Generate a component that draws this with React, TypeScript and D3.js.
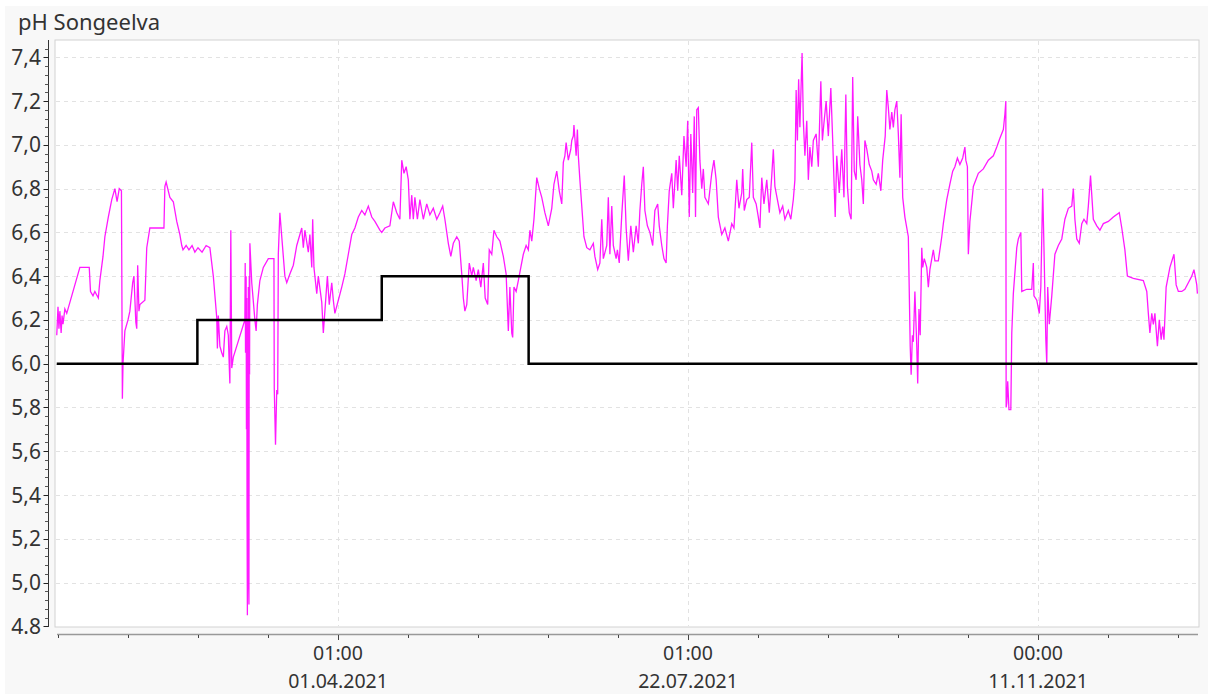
import React from "react";
import * as d3 from "d3";

const W = 1210;
const H = 694;

const chartTitle = "pH Songeelva";

// day of year 2021 (0 = 1 Jan), pH value
const phSeries: [number, number][] = [
  [0.0, 6.13], [0.4, 6.26], [0.7, 6.16], [1.0, 6.24], [1.4, 6.14], [1.7, 6.22], [2.0, 6.18], [2.6, 6.25],
  [3.2, 6.23], [7.4, 6.44], [10.4, 6.44], [10.8, 6.33], [11.6, 6.31], [12.2, 6.33], [13.3, 6.3], [13.8, 6.38],
  [14.8, 6.49], [15.4, 6.58], [16.5, 6.67], [17.6, 6.75], [18.6, 6.8], [19.3, 6.74], [20.0, 6.8], [20.7, 6.79],
  [21.0, 5.84], [21.2, 6.0], [21.8, 6.15], [22.8, 6.2], [23.4, 6.24], [24.3, 6.37], [24.7, 6.4], [25.3, 6.19],
  [25.6, 6.16], [25.9, 6.45], [26.3, 6.24], [26.6, 6.27], [28.2, 6.29], [28.8, 6.53], [29.8, 6.62], [34.3, 6.62],
  [34.6, 6.81], [35.0, 6.83], [36.2, 6.76], [37.3, 6.74], [38.4, 6.65], [39.4, 6.59], [40.0, 6.54], [40.4, 6.52],
  [41.4, 6.54], [42.3, 6.52], [43.3, 6.54], [44.2, 6.51], [45.2, 6.53], [46.5, 6.51], [47.8, 6.54], [49.0, 6.53],
  [50.1, 6.4], [51.2, 6.21], [51.4, 6.07], [51.7, 6.22], [52.2, 6.08], [52.8, 6.05], [53.3, 6.03], [53.8, 6.15],
  [54.4, 6.17], [54.9, 6.13], [55.2, 5.99], [55.4, 5.91], [55.7, 6.61], [56.0, 5.98], [56.5, 6.03], [60.2, 6.2],
  [60.3, 6.46], [60.4, 6.05], [60.6, 6.4], [60.7, 5.7], [60.8, 6.3], [60.9, 5.3], [61.0, 4.85], [61.1, 6.2],
  [61.2, 5.6], [61.3, 6.35], [61.4, 5.0], [61.5, 4.9], [61.6, 6.4], [61.7, 5.95], [61.8, 6.55], [62.4, 6.37],
  [63.4, 6.2], [63.8, 6.15], [64.2, 6.27], [65.0, 6.38], [66.1, 6.44], [67.7, 6.48], [69.5, 6.48], [69.6, 5.89],
  [70.0, 5.63], [70.4, 5.88], [70.7, 5.86], [70.9, 6.5], [71.4, 6.69], [72.0, 6.58], [73.0, 6.4], [73.6, 6.37],
  [74.6, 6.41], [75.7, 6.45], [76.8, 6.54], [78.4, 6.62], [78.9, 6.53], [79.4, 6.61], [80.5, 6.51], [81.0, 6.59],
  [81.6, 6.44], [81.9, 6.66], [82.3, 6.44], [83.2, 6.32], [83.7, 6.4], [84.8, 6.28], [85.3, 6.14], [85.8, 6.24],
  [86.6, 6.4], [87.2, 6.27], [88.0, 6.37], [88.5, 6.29], [89.0, 6.23], [90.1, 6.29], [91.2, 6.35], [92.2, 6.41],
  [93.3, 6.5], [94.4, 6.59], [95.4, 6.62], [96.5, 6.67], [97.6, 6.7], [98.6, 6.68], [99.7, 6.72], [100.8, 6.67],
  [101.8, 6.65], [103.4, 6.61], [104.0, 6.6], [105.0, 6.62], [106.6, 6.63], [107.7, 6.74], [108.8, 6.69],
  [109.8, 6.66], [110.4, 6.93], [111.1, 6.87], [111.8, 6.9], [112.5, 6.84], [113.0, 6.66], [113.6, 6.77],
  [114.1, 6.66], [114.6, 6.76], [115.4, 6.66], [116.2, 6.75], [117.3, 6.66], [118.4, 6.73], [119.4, 6.68],
  [120.5, 6.71], [121.6, 6.66], [122.6, 6.69], [123.5, 6.72], [124.2, 6.66], [125.3, 6.55], [126.1, 6.49],
  [126.9, 6.55], [128.0, 6.58], [128.8, 6.56], [129.6, 6.41], [130.1, 6.3], [130.6, 6.24], [131.2, 6.27],
  [132.0, 6.46], [132.8, 6.4], [133.3, 6.44], [134.2, 6.38], [134.9, 6.43], [135.7, 6.35], [136.5, 6.46],
  [137.1, 6.3], [137.9, 6.27], [138.4, 6.52], [139.2, 6.5], [139.9, 6.61], [140.8, 6.58], [141.8, 6.56],
  [142.9, 6.49], [143.8, 6.41], [144.5, 6.15], [145.0, 6.35], [145.6, 6.14], [145.9, 6.12], [146.3, 6.35],
  [147.0, 6.33], [147.7, 6.38], [148.5, 6.44], [149.3, 6.5], [150.2, 6.54], [150.9, 6.52], [151.4, 6.61],
  [152.0, 6.56], [152.7, 6.66], [153.6, 6.85], [154.4, 6.8], [155.2, 6.76], [156.2, 6.69], [157.3, 6.63],
  [158.4, 6.71], [159.1, 6.82], [160.0, 6.88], [160.8, 6.79], [161.6, 6.73], [162.1, 6.92], [162.6, 6.95],
  [163.0, 7.01], [163.7, 6.93], [164.5, 6.98], [164.8, 7.02], [165.3, 7.04], [165.5, 7.09], [166.2, 6.95],
  [166.6, 7.07], [166.9, 6.95], [167.4, 6.84], [168.0, 6.72], [168.7, 6.58], [169.6, 6.53], [170.6, 6.52],
  [171.7, 6.55], [172.2, 6.49], [173.1, 6.43], [173.8, 6.46], [174.4, 6.66], [174.9, 6.48], [176.0, 6.54],
  [176.5, 6.76], [177.0, 6.5], [177.6, 6.72], [178.1, 6.54], [179.0, 6.48], [179.4, 6.52], [180.0, 6.46],
  [180.8, 6.68], [181.6, 6.86], [182.2, 6.62], [182.9, 6.47], [183.7, 6.63], [184.5, 6.51], [185.4, 6.63],
  [186.1, 6.55], [186.6, 6.7], [187.2, 6.82], [187.7, 6.9], [188.2, 6.7], [189.0, 6.63], [189.8, 6.6],
  [190.7, 6.54], [191.4, 6.7], [192.3, 6.73], [192.8, 6.63], [193.6, 6.54], [194.3, 6.48], [195.0, 6.46],
  [195.4, 6.63], [196.0, 6.79], [196.8, 6.87], [197.3, 6.71], [198.2, 6.93], [198.7, 6.79], [199.2, 6.95],
  [200.0, 6.77], [200.7, 7.04], [201.4, 6.9], [201.9, 7.11], [202.4, 6.67], [202.9, 7.05], [203.5, 6.78],
  [204.0, 7.13], [204.4, 6.67], [204.8, 7.16], [205.3, 7.17], [205.8, 6.93], [206.4, 6.8], [206.9, 6.89],
  [207.4, 6.76], [208.5, 6.73], [209.6, 6.87], [210.3, 6.93], [211.0, 6.84], [211.7, 6.67], [212.8, 6.59],
  [213.8, 6.62], [214.9, 6.56], [216.0, 6.64], [216.7, 6.62], [217.6, 6.84], [218.3, 6.71], [219.2, 6.78],
  [219.5, 6.89], [220.0, 6.7], [220.8, 6.75], [221.6, 6.76], [222.4, 7.01], [222.9, 6.76], [223.8, 6.73],
  [224.5, 6.67], [225.0, 6.62], [225.6, 6.85], [226.3, 6.73], [227.2, 6.84], [228.0, 6.69], [228.8, 6.86],
  [229.3, 6.98], [229.8, 6.81], [230.6, 6.75], [231.4, 6.69], [232.3, 6.72], [233.0, 6.66], [234.1, 6.7],
  [234.9, 6.66], [235.7, 6.75], [236.2, 6.84], [236.6, 7.25], [237.0, 7.02], [237.4, 7.3], [237.8, 7.08],
  [238.5, 7.42], [238.9, 7.11], [239.4, 6.95], [240.0, 7.11], [240.5, 6.84], [241.0, 6.99], [241.6, 6.9],
  [242.1, 7.02], [243.0, 7.05], [243.7, 6.9], [244.5, 7.29], [245.0, 7.02], [245.5, 7.1], [246.2, 7.2],
  [246.9, 7.04], [247.7, 7.26], [248.3, 7.02], [248.7, 6.84], [249.1, 6.67], [249.6, 6.95], [250.4, 6.78],
  [251.2, 6.98], [251.9, 6.76], [252.5, 7.23], [253.0, 6.81], [253.6, 6.69], [254.2, 6.66], [254.7, 7.31],
  [255.2, 6.88], [255.8, 6.84], [256.3, 7.13], [257.0, 6.91], [257.6, 6.84], [258.1, 6.73], [258.6, 7.02],
  [259.2, 6.98], [260.0, 6.91], [260.8, 6.88], [261.3, 6.84], [262.2, 6.82], [262.9, 6.87], [263.7, 6.79],
  [264.3, 6.93], [265.1, 7.04], [265.6, 7.25], [266.1, 7.17], [266.6, 7.07], [267.2, 7.15], [267.7, 7.08],
  [268.2, 7.16], [268.8, 7.2], [269.3, 7.05], [269.8, 6.85], [270.2, 7.14], [270.7, 6.76], [271.4, 6.67],
  [272.5, 6.58], [273.1, 6.08], [273.4, 5.95], [273.8, 6.13], [274.1, 6.1], [274.6, 6.33], [275.2, 6.08],
  [275.5, 5.91], [275.9, 6.25], [276.3, 6.13], [276.8, 6.53], [277.1, 6.44], [277.6, 6.48], [278.4, 6.44],
  [278.9, 6.35], [279.4, 6.43], [280.5, 6.52], [281.0, 6.47], [282.1, 6.47], [283.2, 6.58], [283.7, 6.64],
  [284.2, 6.69], [284.8, 6.75], [285.8, 6.82], [286.7, 6.88], [287.4, 6.9], [288.2, 6.94], [289.0, 6.91],
  [289.9, 6.94], [290.6, 6.99], [290.9, 6.93], [291.4, 6.9], [291.7, 6.5], [292.2, 6.65], [293.3, 6.81],
  [294.9, 6.87], [296.5, 6.89], [298.1, 6.93], [299.7, 6.95], [300.8, 6.99], [301.8, 7.03], [302.9, 7.07],
  [303.4, 7.14], [303.7, 7.2], [303.8, 5.8], [304.0, 5.82], [304.3, 5.92], [304.7, 5.79], [305.3, 5.79],
  [305.6, 6.14], [306.1, 6.32], [307.2, 6.53], [307.7, 6.57], [308.5, 6.6], [308.8, 6.33], [310.4, 6.34],
  [312.0, 6.34], [312.5, 6.46], [312.7, 6.31], [313.6, 6.29], [314.4, 6.23], [314.9, 6.35], [315.5, 6.8],
  [315.9, 6.53], [316.5, 6.11], [316.8, 6.0], [317.1, 6.35], [317.6, 6.18], [318.4, 6.31], [319.4, 6.5],
  [320.5, 6.54], [321.6, 6.57], [322.6, 6.66], [323.7, 6.71], [324.8, 6.72], [325.3, 6.8], [325.8, 6.66],
  [326.4, 6.57], [327.2, 6.55], [328.0, 6.64], [328.7, 6.66], [329.6, 6.64], [330.1, 6.72], [330.8, 6.86],
  [331.7, 6.66], [332.8, 6.63], [333.8, 6.61], [334.9, 6.64], [336.5, 6.65], [338.1, 6.67], [340.0, 6.69],
  [340.8, 6.62], [341.8, 6.52], [342.6, 6.4], [344.5, 6.39], [347.7, 6.38], [348.8, 6.33], [349.3, 6.23],
  [349.8, 6.14], [350.4, 6.23], [350.9, 6.18], [351.4, 6.23], [352.2, 6.08], [352.8, 6.2], [353.4, 6.11],
  [353.9, 6.17], [354.3, 6.11], [355.0, 6.35], [356.2, 6.44], [357.5, 6.5], [358.2, 6.36], [358.9, 6.33],
  [360.0, 6.33], [361.0, 6.34], [362.1, 6.37], [363.2, 6.4], [363.9, 6.43], [364.8, 6.36], [365.0, 6.32],
];

// lower pH limit, stepwise by season
const limitDays = [0, 45, 104, 151, 365];
const limitValues = [6.0, 6.2, 6.4, 6.0, 6.0];

const yTicks = [4.8, 5.0, 5.2, 5.4, 5.6, 5.8, 6.0, 6.2, 6.4, 6.6, 6.8, 7.0, 7.2, 7.4];
const yTickLabels = ["4.8", "5,0", "5,2", "5,4", "5,6", "5,8", "6,0", "6,2", "6,4", "6,6", "6,8", "7,0", "7,2", "7,4"];

const xMajorDays = [90, 202, 314];
const xTimeLabels = ["01:00", "01:00", "00:00"];
const xDateLabels = ["01.04.2021", "22.07.2021", "11.11.2021"];

const FONT = "'Noto Sans', 'Open Sans', sans-serif";
const plot = { left: 55, top: 40, right: 1199, bottom: 627 };

const App: React.FC = () => {
  const x = d3.scaleLinear().domain([0, 365]).range([56.75, 1197.4]);
  const y = d3.scaleLinear().domain([4.8, 7.4]).range([626.3, 57.3]);

  const line = d3
    .line<[number, number]>()
    .x((d) => x(d[0]))
    .y((d) => y(d[1]));

  const limitLine = d3
    .line<number>()
    .x((d) => x(d))
    .y((_, i) => y(limitValues[i]))
    .curve(d3.curveStepAfter);

  const minorStep = 22.4;
  const xMinor = d3.range(90 - 4 * minorStep, 366, minorStep).filter((d) => x(d) <= 1198);
  const yMinor = d3.range(4.8, 7.5, 0.04).filter((v) => y(v) >= plot.top);

  return (
    <svg
      width={W}
      height={H}
      style={{ position: "absolute", left: 0, top: 0, display: "block", background: "#fff" }}
    >
      <rect x={5} y={6} width={W - 7} height={H - 6} fill="#f8f8f8" />

      <text x={18} y={30} fontFamily={FONT} fontSize={22} fill="#333">
        {chartTitle}
      </text>

      <rect
        x={plot.left}
        y={plot.top}
        width={plot.right - plot.left}
        height={plot.bottom - plot.top}
        fill="#fff"
        stroke="#d2d2d2"
        strokeWidth={1}
      />

      {/* grid */}
      <g stroke="#e2e2e2" strokeWidth={1} strokeDasharray="4,4">
        {yTicks.slice(1).map((v) => (
          <line key={v} x1={plot.left + 1} x2={plot.right - 1} y1={Math.round(y(v)) + 0.5} y2={Math.round(y(v)) + 0.5} />
        ))}
        {xMajorDays.map((d) => (
          <line key={d} x1={Math.round(x(d)) + 0.5} x2={Math.round(x(d)) + 0.5} y1={plot.top + 1} y2={plot.bottom - 1} />
        ))}
      </g>

      <g clipPath="url(#plotClip)">
        <path d={line(phSeries) ?? ""} fill="none" stroke="#ff00ff" strokeWidth={1.3} strokeOpacity={0.9} />
        <path d={limitLine(limitDays) ?? ""} fill="none" stroke="#000" strokeWidth={2.5} />
      </g>
      <defs>
        <clipPath id="plotClip">
          <rect x={plot.left} y={plot.top} width={plot.right - plot.left} height={plot.bottom - plot.top} />
        </clipPath>
      </defs>

      {/* y axis */}
      <line x1={48.5} x2={48.5} y1={plot.top} y2={plot.bottom} stroke="#333" strokeWidth={1} />
      <g stroke="#555" strokeWidth={1}>
        {yMinor.map((v, i) => (
          <line key={i} x1={45} x2={48.5} y1={Math.round(y(v)) + 0.5} y2={Math.round(y(v)) + 0.5} />
        ))}
        {yTicks.map((v) => (
          <line key={v} x1={43.5} x2={48.5} y1={Math.round(y(v)) + 0.5} y2={Math.round(y(v)) + 0.5} stroke="#222" />
        ))}
      </g>
      {yTicks.map((v, i) => (
        <text
          key={v}
          x={41}
          y={y(v)}
          dy="0.36em"
          textAnchor="end"
          fontFamily={FONT}
          fontSize={21}
          fill="#333"
        >
          {yTickLabels[i]}
        </text>
      ))}

      {/* x axis */}
      <line x1={57} x2={1198} y1={634.5} y2={634.5} stroke="#999" strokeWidth={1.5} />
      <g stroke="#444" strokeWidth={1}>
        {xMinor.map((d, i) => (
          <line key={i} x1={Math.round(x(d)) + 0.5} x2={Math.round(x(d)) + 0.5} y1={635} y2={638} />
        ))}
        {xMajorDays.map((d) => (
          <line key={d} x1={Math.round(x(d)) + 0.5} x2={Math.round(x(d)) + 0.5} y1={635} y2={640} />
        ))}
      </g>
      {xMajorDays.map((d, i) => (
        <g key={d} fontFamily={FONT} fontSize={19.5} fill="#333" textAnchor="middle">
          <text x={x(d)} y={660}>
            {xTimeLabels[i]}
          </text>
          <text x={x(d)} y={688}>
            {xDateLabels[i]}
          </text>
        </g>
      ))}
    </svg>
  );
};

export default App;
